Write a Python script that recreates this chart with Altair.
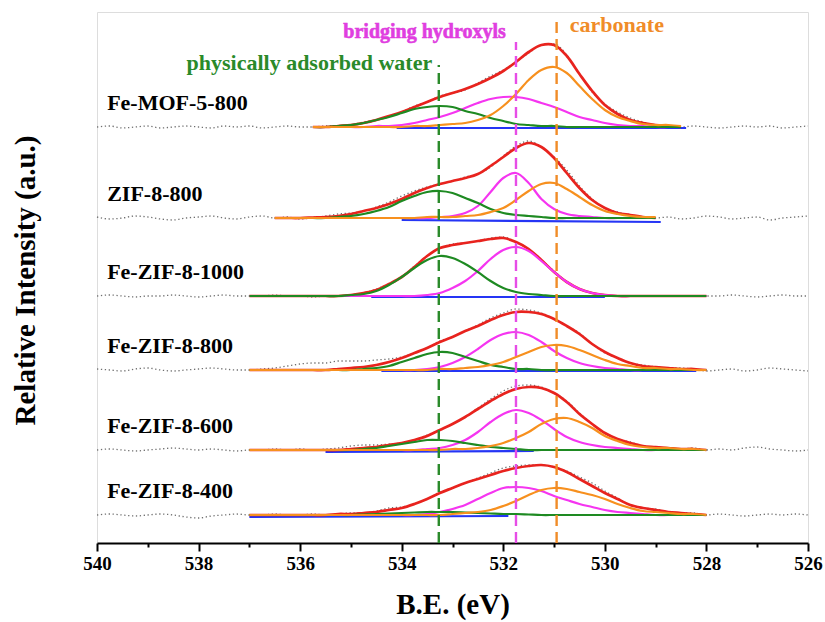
import altair as alt
import pandas as pd

# ---------------- data ----------------
SAMPLES = ["Fe-MOF-5-800", "ZIF-8-800", "Fe-ZIF-8-1000",
           "Fe-ZIF-8-800", "Fe-ZIF-8-600", "Fe-ZIF-8-400"]
OFFSETS = [416, 325, 247, 173, 93, 28]          # vertical stacking offset of each spectrum
FIT_START = [535.75, 536.5, 537.0, 537.0, 537.0, 537.0]   # first B.E. of each fitted range
STEP = 0.25

RED = [
    [0, 0, 1, 2, 4, 7, 11, 15, 20, 25, 30, 34, 38, 43, 49, 56, 65, 75, 82, 82, 71, 53, 36, 22, 13, 7, 4, 2, 1, 0],
    [0, 0, 0, 0.5, 1, 2, 4, 7, 10, 14, 19, 25, 30, 34, 37, 40, 44, 52, 61, 70, 75, 71, 60, 45, 30, 18, 10, 5, 3, 1, 0],
    [0] * 8 + [1, 3, 6, 12, 19, 29, 40, 48, 51, 53, 55, 57, 58, 54, 47, 36, 24, 14, 7, 3, 1] + [0] * 8,
    [0] * 7 + [1, 2, 3, 5, 8, 12, 17, 22, 28, 33, 39, 44, 50, 55, 58, 58, 56, 51, 44, 36, 26, 18, 12, 7, 4, 3, 2, 1, 1, 0],
    [0] * 7 + [0, 1, 2, 3, 5, 7, 10, 14, 20, 26, 33, 41, 49, 56, 61, 63, 62, 57, 48, 36, 26, 17, 11, 7, 4, 3, 2, 1, 1, 0],
    [0] * 7 + [1, 1, 2, 3, 5, 7, 11, 16, 22, 27, 32, 36, 40, 44, 47, 49, 50, 48, 43, 36, 29, 22, 16, 10, 7, 5, 3, 2, 1, 0],
]
MAGENTA = [
    [0, 0, 0, 0, 0, 1, 1, 2, 4, 7, 10, 14, 19, 24, 28, 30, 30, 28, 24, 20, 15, 10, 7, 4, 2, 1, 1, 0, 0, 0],
    [0] * 13 + [1, 2, 5, 12, 26, 40, 45, 35, 19, 9, 4, 2, 1] + [0] * 5,
    [0] * 14 + [1, 3, 8, 15, 25, 37, 46, 49, 45, 35, 24, 14, 7, 3, 1] + [0] * 8,
    [0] * 14 + [1, 3, 7, 13, 21, 30, 36, 38, 35, 28, 19, 12, 7, 4, 2, 1] + [0] * 7,
    [0] * 13 + [0, 1, 2, 5, 10, 18, 28, 36, 40, 37, 30, 21, 13, 8, 5, 3, 2, 1] + [0] * 6,
    [0] * 13 + [0, 1, 3, 6, 10, 16, 22, 27, 28, 27, 24, 19, 15, 11, 8, 5, 3, 2, 1] + [0] * 5,
]
ORANGE = [
    [0] * 8 + [1, 1, 2, 3, 4, 7, 12, 21, 33, 47, 57, 60, 54, 41, 28, 17, 10, 6, 3, 2, 2, 1],
    [0] * 12 + [1, 1, 1, 2, 3, 6, 10, 18, 27, 34, 35, 29, 21, 13, 7, 4, 2, 1, 1],
    None,
    [0] * 15 + [1, 1, 2, 3, 5, 8, 13, 18, 23, 25, 24, 20, 15, 10, 6, 4, 2, 2, 1, 1, 0, 0],
    [0] * 16 + [1, 1, 2, 4, 7, 12, 18, 26, 31, 32, 28, 22, 14, 9, 5, 3, 2, 2, 1, 1, 0],
    [0] * 16 + [1, 2, 3, 5, 9, 14, 20, 25, 27, 26, 23, 20, 16, 11, 7, 4, 3, 2, 1, 1, 0],
]
GREEN = [
    [0, 0, 1, 2, 4, 7, 10, 14, 18, 20, 21, 20, 16, 13, 9, 6, 3, 2, 1, 1, 0, 0, 0, 0, 0, 0, 0, 0, 0, 0],
    [0] * 5 + [1, 2, 4, 7, 11, 17, 22, 26, 27, 25, 20, 15, 9, 5, 3, 2, 1] + [0] * 9,
    [0] * 7 + [0, 1, 2, 5, 11, 19, 28, 36, 40, 38, 32, 24, 15, 8, 4, 2, 1] + [0] * 13,
    [0] * 8 + [0, 1, 2, 4, 8, 12, 16, 18, 17, 13, 9, 5, 3, 1, 1] + [0] * 14,
    [0] * 9 + [1, 2, 4, 6, 8, 10, 10, 9, 7, 5, 3, 2, 1] + [0] * 15,
    [0] * 9 + [0.5, 1, 1.5, 2, 2.5, 3, 3, 3, 2.5, 2, 1.5, 1, 1, 0.5] + [0] * 14,
]
# background (blue) line: start B.E., end B.E., start level, end level
BACKGROUND = [
    [534.1, 528.4, -1, -1],
    [534.0, 528.9, -2, -4],
    [534.6, 530.0, -1, -1],
    [534.4, 528.2, -1, -1],
    [535.5, 531.4, -2, -1],
    [537.0, 531.9, -2, -1],
]
# raw data = fit envelope + residual, sampled every 0.25 eV from 540 to 526
RAW_RESID = [
    [0, 1, -1, 0, 1, -1, 0, 1, 0, -1, 1, 0, 1, -1, 0, 1, 0,
     0, 1, 0, 0, 1, 0, -1, 0, 1, 0, 1, 0, -1, 1, 2, 1, 0, -1, 0, 1, 1, 0, -1, 1, 2, 2, 1, 0, 0, 0,
     1, 0, -1, 0, 1, 0, 1, -1, 0, 1],
    [1, -1, 0, 2, 1, -1, -2, 0, 1, 2, 0, -1, 1, 2,
     0, 1, -1, 0, 1, 2, 1, 0, 1, 2, 3, 2, 1, 0, 0, 1, 0, -1, 1, 2, 2, 0, 1, 3, 2, 1, 0, 1, 0, -1, 0,
     1, -1, 0, 2, 1, -1, 0, 1, -2, 0, 1, 2],
    [0, 1, 0, -1, 0, 0, 1, 0, -1, 0, 1, 0,
     0, 0, 1, 0, 0, -1, 0, 0, 0, 0, 1, 0, 0, 1, 0, 0, 1, 0, 0, 1, 1, 0, 0, 0, 1, 0, 0, 0, 0, 0, 0, 0, 0, 0, 0, 0, 0,
     0, 1, 0, -1, 0, 1, 0, 0],
    [1, 0, -1, 1, 2, 0, -1, 0, 1, 2, 1, 0,
     0, 1, 2, 4, 6, 7, 7, 8, 7, 6, 5, 3, 1, 0, 0, 1, 0, 0, 1, 2, 2, 3, 2, 1, 0, 0, 1, 0, -1, 0, 0, 1, 0, 0, 1, 0, -1,
     0, 1, -1, 0, 2, 1, 0, -1],
    [0, 1, 0, -1, 0, 1, 2, 1, 0, 1, 0, -1,
     0, 0, 1, 0, 1, 0, 1, 2, 3, 3, 2, 1, 0, 0, 1, 0, 0, 0, 1, 2, 3, 3, 2, 1, 0, 1, 1, 0, 0, 0, 1, 0, 0, -1, 0, 1, 0,
     1, 0, 2, 3, 1, 0, -1, 0],
    [0, 1, 0, -1, 0, 1, 0, -2, -3, -1, 0, 1,
     0, 0, 1, 0, 0, 1, 0, 0, 1, 0, 1, 2, 1, 0, 0, 1, 0, 0, 1, 2, 3, 2, 1, 0, 0, 1, 2, 3, 2, 1, 0, 0, 1, 0, 0, 1, 0,
     1, 0, -1, 0, 1, 0, 1, 0],
]
PEAK_NAMES = ["physically adsorbed water", "bridging hydroxyls", "carbonate"]
PEAK_BE = [533.27, 531.75, 530.95]
PEAK_TOP = [478, 501, 521]          # upper end of each dashed marker line
MAJOR_TICKS = [540, 538, 536, 534, 532, 530, 528, 526]
MINOR_TICKS = [539, 537, 535, 533, 531, 529, 527]

# ---------------- tables ----------------
def grid(start, n):
    return [round(start - STEP * i, 2) for i in range(n)]

def fix_len(vals, n):
    vals = list(vals)[:n]
    return vals + [0] * (n - len(vals))

COMPONENTS = {"red": RED, "magenta": MAGENTA, "orange": ORANGE, "green": GREEN}
fit_rows = []
for k, name in enumerate(SAMPLES):
    for comp, series in COMPONENTS.items():
        vals = series[k]
        if vals is None:
            continue
        for e, v in zip(grid(FIT_START[k], len(vals)), vals):
            fit_rows.append({"sample": name, "comp": comp, "E": e, "I": OFFSETS[k] + v})
fit_df = pd.DataFrame(fit_rows)

raw_rows = []
n_raw = 57
for k, name in enumerate(SAMPLES):
    lookup = dict(zip(grid(FIT_START[k], len(RED[k])), RED[k]))
    resid = fix_len(RAW_RESID[k], n_raw)
    for i in range(n_raw):
        e = round(540.0 - STEP * i, 2)
        raw_rows.append({"sample": name, "E": e, "I": OFFSETS[k] + lookup.get(e, 0) + resid[i]})
raw_df = pd.DataFrame(raw_rows)

bg_rows = []
for k, name in enumerate(SAMPLES):
    e1, e2, v1, v2 = BACKGROUND[k]
    bg_rows.append({"sample": name, "E": e1, "I": OFFSETS[k] + v1})
    bg_rows.append({"sample": name, "E": e2, "I": OFFSETS[k] + v2})
bg_df = pd.DataFrame(bg_rows)

label_df = pd.DataFrame({"sample": SAMPLES, "E": [539.8] * 6,
                         "I": [o + 24 for o in OFFSETS]})
peak_df = pd.DataFrame({"name": PEAK_NAMES, "E": PEAK_BE, "top": PEAK_TOP,
                        "zero": [0, 0, 0]})
minor_df = pd.DataFrame({"E": MINOR_TICKS})

# ---------------- styling ----------------
SERIF = "Liberation Serif"
C_RED, C_MAG, C_ORA, C_GRN, C_BLU = "#e8231e", "#f535f0", "#f7901e", "#1e8a22", "#2535f5"
ANN_COLORS = ["#2a8a2a", "#e03ee0", "#f08c28"]

xs = alt.Scale(domain=[526, 540], reverse=True, nice=False, zero=False)
ys = alt.Scale(domain=[0, 531], nice=False, zero=False)

x_axis = alt.Axis(values=MAJOR_TICKS, format="d", tickSize=8, tickWidth=2, tickColor="black",
                  domainColor="black", domainWidth=2, labelFont=SERIF, labelFontSize=19,
                  labelFontWeight="bold", labelColor="black", labelPadding=3, grid=False,
                  orient="bottom", labelFlush=False, labelOverlap=False,
                  title="B.E. (eV)", titleFont=SERIF, titleFontSize=29, titleFontWeight="bold",
                  titleColor="black", titleY=61, titleBaseline="middle")
y_axis = alt.Axis(labels=False, ticks=False, domain=False, grid=False,
                  title="Relative Intensity (a.u.)", titleFont=SERIF, titleFontSize=29,
                  titleFontWeight="bold", titleColor="black", titleX=-72, titleY=268,
                  titleBaseline="middle", titleAngle=-90)

X = alt.X("E:Q", scale=xs, axis=x_axis)
Y = alt.Y("I:Q", scale=ys, axis=y_axis)

raw = alt.Chart(raw_df).mark_line(color="#6f6f6f", strokeWidth=1.3, strokeDash=[1.3, 2.6],
                                  interpolate="monotone").encode(x=X, y=Y, detail="sample:N")
bg = alt.Chart(bg_df).mark_line(color=C_BLU, strokeWidth=2.2).encode(x=X, y=Y, detail="sample:N")

def comp_layer(comp, color, width):
    return (alt.Chart(fit_df[fit_df["comp"] == comp])
            .mark_line(color=color, strokeWidth=width, interpolate="catmull-rom")
            .encode(x=X, y=Y, detail="sample:N"))

red = comp_layer("red", C_RED, 2.7)
mag = comp_layer("magenta", C_MAG, 2.2)
grn = comp_layer("green", C_GRN, 2.2)
ora = comp_layer("orange", C_ORA, 2.2)

dash_colors = alt.Scale(domain=PEAK_NAMES, range=["#2a8a2a", "#e64de6", "#f08c28"])
dashes = alt.Chart(peak_df).mark_rule(strokeWidth=2.4, strokeDash=[11, 6]).encode(
    x=X, y=alt.Y("zero:Q", scale=ys, axis=y_axis), y2="top:Q",
    color=alt.Color("name:N", scale=dash_colors, legend=None))

labels = alt.Chart(label_df).mark_text(align="left", baseline="middle", font=SERIF,
                                       fontSize=22, fontWeight="bold", color="black").encode(
    x=X, y=Y, text="sample:N")

ann_rows = [
    {"name": PEAK_NAMES[0], "E": 533.40, "I": 480, "align": "right", "size": 22, "sw": 0.0},
    {"name": PEAK_NAMES[1], "E": 531.95, "I": 511, "align": "right", "size": 20, "sw": 0.6},
    {"name": PEAK_NAMES[2], "E": 530.69, "I": 518, "align": "left", "size": 22, "sw": 0.0},
]
ann_layers = []
for a, col in zip(ann_rows, ANN_COLORS):
    ann_layers.append(
        alt.Chart(pd.DataFrame([{"name": a["name"], "E": a["E"], "I": a["I"]}]))
        .mark_text(align=a["align"], baseline="middle", font=SERIF, fontSize=a["size"],
                   fontWeight="bold", color=col, stroke=col, strokeWidth=a["sw"])
        .encode(x=X, y=Y, text="name:N"))

main = alt.layer(raw, bg, red, mag, grn, ora, dashes, labels, *ann_layers)

minor = alt.Chart(minor_df).mark_point(opacity=0).encode(
    x=alt.X("E:Q", scale=xs,
            axis=alt.Axis(values=MINOR_TICKS, labels=False, domain=False, tickSize=4,
                          tickWidth=2, tickColor="black", title=None, grid=False,
                          orient="bottom")),
    y=alt.value(0))

chart = (alt.layer(main, minor)
         .resolve_axis(x="independent")
         .properties(width=711, height=531,
                     autosize=alt.AutoSizeParams(type="none"),
                     padding={"left": 97, "top": 12, "right": 17, "bottom": 79})
         .configure_view(stroke="black", strokeWidth=2)
         .configure_axis(grid=False)
         .configure(background="white"))

chart.save("out.html", embed_options={"renderer": "svg", "actions": False})
